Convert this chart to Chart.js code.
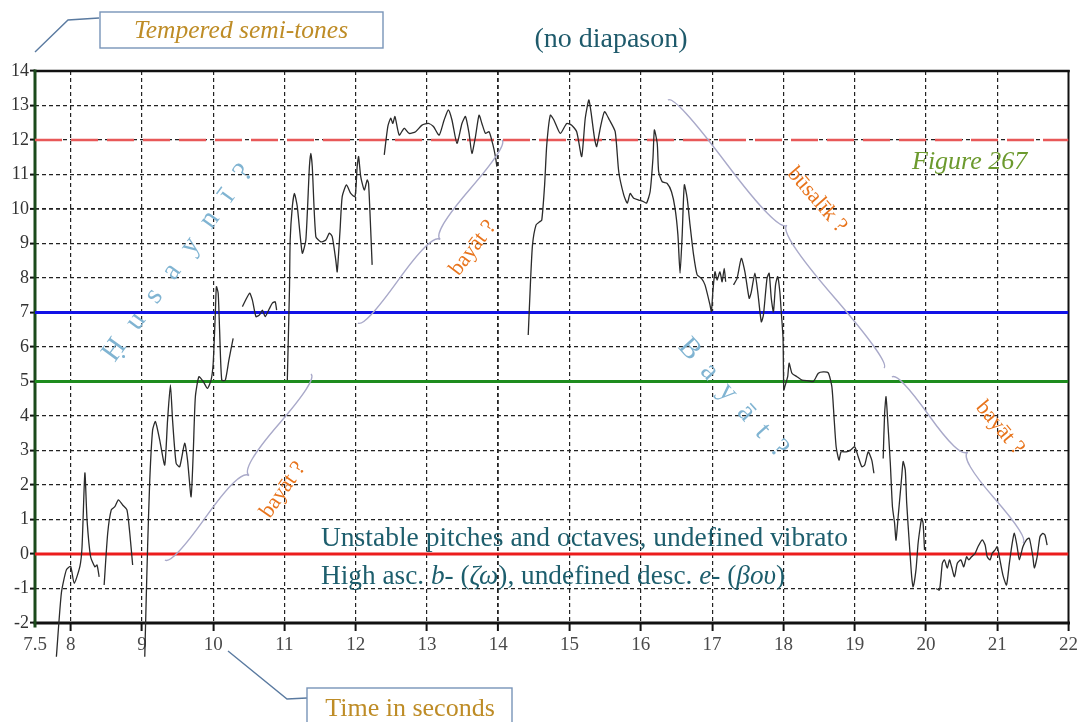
<!DOCTYPE html>
<html lang="en">
<head>
  <meta charset="UTF-8" />
  <title>Pitch curve - Figure 267</title>
  <style>
    html, body { margin: 0; padding: 0; background: #fff; }
    #wrap { width: 1081px; height: 722px; position: relative; }
  </style>
</head>
<body>
  <div id="wrap"><canvas id="pitchChart"></canvas></div>

  <script src="https://cdn.jsdelivr.net/npm/chart.js"></script>
  <script>
    // time in seconds / pitch in tempered semi-tones (null = no pitch detected)
    const t = [
      7.80, 7.87, 7.94, 8.00, 8.05, 8.13, 8.16, 8.20, 8.23, 8.28, 8.34, 8.37, 8.40, 8.43,
      8.47, 8.52, 8.57, 8.62, 8.67, 8.73, 8.79, 8.83, 8.87, 8.95,
      9.04, 9.06, 9.08, 9.11, 9.15, 9.19, 9.25, 9.32, 9.36, 9.40, 9.43, 9.48, 9.53, 9.60, 9.64,
      9.69, 9.72, 9.75, 9.80, 9.86, 9.92, 9.97, 10.00, 10.03, 10.045, 10.07, 10.09, 10.12, 10.17,
      10.22, 10.28, 10.35,
      10.41, 10.51, 10.55, 10.60, 10.65, 10.69, 10.73, 10.79, 10.83, 10.87, 10.89, 10.96,
      11.04, 11.07, 11.08, 11.11, 11.14, 11.18, 11.25, 11.30, 11.35, 11.37, 11.39, 11.44, 11.51,
      11.58, 11.63, 11.67, 11.72, 11.74, 11.78, 11.81, 11.87, 11.93, 11.99, 12.02, 12.04, 12.07,
      12.12, 12.16, 12.18, 12.21, 12.23, 12.30,
      12.40, 12.45, 12.49, 12.52, 12.55, 12.61, 12.68, 12.75, 12.84, 12.93, 13.02, 13.09, 13.17,
      13.24, 13.30, 13.35, 13.42, 13.49, 13.54, 13.59, 13.63, 13.68, 13.73, 13.77, 13.82, 13.87,
      13.92, 13.96, 13.98, 14.20,
      14.42, 14.45, 14.48, 14.53, 14.58, 14.61, 14.65, 14.68, 14.73, 14.78, 14.87, 14.96, 15.03,
      15.10, 15.17, 15.22, 15.27, 15.30, 15.35, 15.38, 15.43, 15.49, 15.56, 15.64, 15.69, 15.76,
      15.81, 15.85, 15.90, 15.97, 16.04, 16.08, 16.13, 16.17, 16.19, 16.23, 16.25, 16.30, 16.37,
      16.43, 16.48, 16.52, 16.55, 16.58, 16.61, 16.65, 16.69, 16.74, 16.79, 16.85, 16.90, 16.97,
      16.99, 17.01, 17.04, 17.07, 17.11, 17.14, 17.17, 17.19, 17.25,
      17.30, 17.35, 17.41, 17.46, 17.52, 17.55, 17.60, 17.64, 17.69, 17.72, 17.77, 17.80, 17.83,
      17.86, 17.89, 17.92, 17.95, 17.97, 17.995, 18.005, 18.02, 18.06, 18.08, 18.12, 18.19, 18.26,
      18.35, 18.42, 18.49, 18.56, 18.63, 18.68, 18.71, 18.74, 18.78, 18.81, 18.88, 18.94, 19.00,
      19.05, 19.10, 19.14, 19.19, 19.24, 19.27, 19.33,
      19.40, 19.42, 19.44, 19.46, 19.50, 19.53, 19.56, 19.58, 19.61, 19.66, 19.68, 19.71, 19.73,
      19.77, 19.80, 19.82, 19.86, 19.89, 19.92, 19.94, 19.96, 19.98, 20.06,
      20.14, 20.19, 20.23, 20.26, 20.30, 20.33, 20.36, 20.40, 20.44, 20.49, 20.53, 20.57, 20.60,
      20.64, 20.69, 20.73, 20.79, 20.83, 20.86, 20.90, 20.93, 20.97, 21.00, 21.03, 21.08, 21.13,
      21.17, 21.21, 21.24, 21.28, 21.31, 21.36, 21.41, 21.45, 21.50, 21.52, 21.56, 21.60, 21.64,
      21.67, 21.70
    ];
    const semitones = [
      -2.98, -1.13, -0.46, -0.36, -0.85, -0.36, 0.21, 2.35, 0.99, -0.08, -0.37, -0.32, -0.66, null,
      -0.90, 0.60, 1.28, 1.37, 1.57, 1.42, 1.28, 0.60, -0.32, null,
      -2.98, -1.33, 0.21, 2.14, 3.59, 3.84, 3.30, 2.58, 3.88, 4.90, 3.88, 2.63, 2.53, 3.21, 2.72,
      1.66, 2.92, 4.56, 5.14, 5.00, 4.80, 5.04, 5.53, 6.97, 7.75, 7.56, 6.49, 5.04, 5.04,
      5.62, 6.25, null,
      7.17, 7.56, 7.36, 6.88, 6.93, 7.07, 6.88, 7.12, 7.27, 7.31, 7.07, null,
      5.04, 7.65, 9.10, 10.07, 10.45, 10.07, 8.72, 9.10, 11.23, 11.61, 11.23, 9.20, 9.05,
      9.10, 9.30, 9.20, 8.52, 8.18, 9.39, 10.36, 10.70, 10.45, 10.36, 11.23, 11.52, 10.94,
      10.55, 10.84, 10.74, 9.39, 8.38, null,
      11.57, 12.39, 12.63, 12.48, 12.68, 12.14, 12.34, 12.19, 12.24, 12.43, 12.48, 12.39, 12.14,
      12.58, 12.87, 12.58, 11.90, 12.48, 12.68, 12.19, 11.61, 12.10, 12.72, 12.48, 12.19, 12.24,
      11.90, 11.52, 11.23, null,
      6.35, 7.80, 8.96, 9.54, 9.63, 9.68, 10.70, 11.86, 12.72, 12.58, 12.19, 12.48, 12.43,
      12.24, 11.52, 12.63, 13.16, 12.82, 12.05, 11.81, 12.34, 12.82, 12.58, 12.24, 11.08, 10.41,
      10.17, 10.45, 10.31, 10.26, 10.21, 10.17, 10.50, 11.47, 12.29, 11.90, 11.08, 10.79, 10.74,
      10.50, 10.02, 9.25, 8.14, 9.25, 10.70, 10.31, 9.54, 8.67, 8.09, 7.99, 7.80, 7.22,
      7.02, 7.60, 8.18, 7.94, 8.18, 7.89, 8.28, 7.89, null,
      7.80, 7.99, 8.57, 8.18, 7.41, 7.60, 8.14, 7.60, 6.73, 6.93, 7.99, 8.14, 7.41,
      7.02, 7.80, 8.04, 7.60, 7.02, 6.25, 4.75, 4.85, 5.14, 5.53, 5.24, 5.14, 5.04,
      5.02, 5.00, 5.24, 5.28, 5.25, 4.85, 3.98, 3.11, 2.72, 2.96, 2.96, 3.01, 3.11,
      2.82, 2.53, 2.58, 2.96, 2.72, 2.34, null,
      2.77, 4.07, 4.56, 3.98, 2.63, 1.37, 0.89, 0.40, 1.08, 2.24, 2.68, 2.43, 1.47,
      0.21, -0.66, -0.95, -0.46, 0.31, 0.79, 1.03, 0.89, 0.12, null,
      -1.00, -1.04, -0.27, -0.17, -0.41, -0.17, -0.37, -0.66, -0.27, -0.17, -0.37, -0.08, -0.17,
      -0.08, 0.02, 0.21, 0.41, 0.26, -0.08, -0.17, 0.02, 0.12, 0.21, -0.08, -0.61, -0.90,
      -0.27, 0.31, 0.60, 0.21, -0.17, 0.21, 0.41, 0.46, -0.08, -0.41, -0.08, 0.50, 0.60,
      0.55, 0.26
    ];

    // reference pitch levels (semi-tones)
    const refLevels = [0, 5, 7, 12];

    const xTicks = [7.5, 8, 9, 10, 11, 12, 13, 14, 15, 16, 17, 18, 19, 20, 21, 22];
    const yTicks = [-2, -1, 0, 1, 2, 3, 4, 5, 6, 7, 8, 9, 10, 11, 12, 13, 14];

    const SERIF = "'Liberation Serif', 'DejaVu Serif', serif";
    const refStyle = {
      0:  { color: '#ec1c1c', width: 3, dash: [] },
      5:  { color: '#1e8c1e', width: 3, dash: [] },
      7:  { color: '#1212e6', width: 3, dash: [] },
      12: { color: '#e85858', width: 2.3, dash: [27, 9] }
    };

    const curve = t.map((x, i) => ({ x: x, y: semitones[i] }));

    const refSets = refLevels.map(level => ({
      data: [{ x: xTicks[0], y: level }, { x: xTicks[xTicks.length - 1], y: level }],
      borderColor: refStyle[level].color,
      borderWidth: refStyle[level].width,
      borderDash: refStyle[level].dash,
      pointRadius: 0,
      tension: 0
    }));

    function brace(ctx, x1, y1, x2, y2, w) {
      const q = 0.6;
      let dx = x1 - x2, dy = y1 - y2;
      const len = Math.hypot(dx, dy);
      dx /= len; dy /= len;
      const qx1 = x1 + q * w * dy, qy1 = y1 - q * w * dx;
      const qx2 = (x1 - .25 * len * dx) + (1 - q) * w * dy, qy2 = (y1 - .25 * len * dy) - (1 - q) * w * dx;
      const tx = (x1 - .5 * len * dx) + w * dy, ty = (y1 - .5 * len * dy) - w * dx;
      const qx3 = x2 + q * w * dy, qy3 = y2 - q * w * dx;
      const qx4 = (x1 - .75 * len * dx) + (1 - q) * w * dy, qy4 = (y1 - .75 * len * dy) - (1 - q) * w * dx;
      ctx.beginPath();
      ctx.moveTo(x1, y1);
      ctx.quadraticCurveTo(qx1, qy1, qx2, qy2);
      ctx.quadraticCurveTo(2 * qx2 - qx1, 2 * qy2 - qy1, tx, ty);
      ctx.moveTo(x2, y2);
      ctx.quadraticCurveTo(qx3, qy3, qx4, qy4);
      ctx.quadraticCurveTo(2 * qx4 - qx3, 2 * qy4 - qy3, tx, ty);
      ctx.stroke();
    }

    // letters spread evenly along a rotated baseline
    function spacedText(ctx, text, cx, cy, angle, length) {
      const chars = Array.from(text);
      const widths = chars.map(c => ctx.measureText(c).width);
      const sum = widths.reduce((a, b) => a + b, 0);
      const gap = (length - sum) / (chars.length - 1);
      ctx.save();
      ctx.translate(cx, cy);
      ctx.rotate(angle * Math.PI / 180);
      let x = -length / 2;
      chars.forEach((c, i) => { ctx.fillText(c, x, 0); x += widths[i] + gap; });
      ctx.restore();
    }

    function rotText(ctx, text, cx, cy, angle) {
      ctx.save();
      ctx.translate(cx, cy);
      ctx.rotate(angle * Math.PI / 180);
      ctx.textAlign = 'center';
      ctx.fillText(text, 0, 0);
      ctx.restore();
    }

    // mixed normal / italic runs on one baseline
    function runs(ctx, parts, x, y, size) {
      parts.forEach(p => {
        ctx.font = (p[1] ? 'italic ' : '') + size + 'px ' + SERIF;
        ctx.fillText(p[0], x, y);
        x += ctx.measureText(p[0]).width;
      });
    }

    const frame = {
      id: 'frame',
      beforeDatasetsDraw(chart) {
        const ctx = chart.ctx, a = chart.chartArea;
        ctx.save();
        ctx.lineCap = 'square';
        ctx.strokeStyle = '#111';
        ctx.lineWidth = 2.5;
        ctx.beginPath(); ctx.moveTo(a.left, a.top); ctx.lineTo(a.right, a.top); ctx.stroke();
        ctx.lineWidth = 2;
        ctx.beginPath(); ctx.moveTo(a.right, a.top); ctx.lineTo(a.right, a.bottom); ctx.stroke();
        ctx.lineWidth = 3;
        ctx.beginPath(); ctx.moveTo(a.left, a.bottom); ctx.lineTo(a.right, a.bottom); ctx.stroke();
        ctx.strokeStyle = '#1b4a1b';
        ctx.beginPath(); ctx.moveTo(a.left, a.top); ctx.lineTo(a.left, a.bottom + 3); ctx.stroke();
        ctx.restore();
      }
    };

    const notes = {
      id: 'notes',
      afterDatasetsDraw(chart) {
        const ctx = chart.ctx;
        ctx.save();

        // title
        ctx.fillStyle = '#1e5a6b';
        ctx.font = '28px ' + SERIF;
        ctx.textAlign = 'center';
        ctx.textBaseline = 'alphabetic';
        ctx.fillText('(no diapason)', 611, 47);

        // axis caption boxes with their leader lines
        ctx.strokeStyle = '#5a7aa0';
        ctx.lineWidth = 1.4;
        ctx.beginPath(); ctx.moveTo(35, 52); ctx.lineTo(68, 20); ctx.lineTo(99, 18); ctx.stroke();
        ctx.beginPath(); ctx.moveTo(228, 651); ctx.lineTo(287, 699); ctx.lineTo(307, 698); ctx.stroke();
        ctx.strokeStyle = '#7894b8';
        ctx.fillStyle = '#fff';
        ctx.fillRect(100, 12, 283, 36); ctx.strokeRect(100, 12, 283, 36);
        ctx.fillRect(307, 688, 205, 40); ctx.strokeRect(307, 688, 205, 40);
        ctx.fillStyle = '#be8c26';
        ctx.font = 'italic 25.5px ' + SERIF;
        ctx.fillText('Tempered semi-tones', 241, 38);
        ctx.font = '26px ' + SERIF;
        ctx.fillText('Time in seconds', 410, 716);

        // figure number
        ctx.fillStyle = '#6c9a2e';
        ctx.font = 'italic 26px ' + SERIF;
        ctx.textAlign = 'left';
        ctx.fillText('Figure 267', 912, 169);

        // comments
        ctx.fillStyle = '#1d5e6d';
        ctx.font = '27.5px ' + SERIF;
        ctx.fillText('Unstable pitches and octaves, undefined vibrato', 321, 546);
        runs(ctx, [['High asc. ', 0], ['b-', 1], [' (', 0], ['ζω', 1], ['), undefined desc. ', 0],
                   ['e-', 1], [' (', 0], ['βου', 1], [')', 0]], 321, 584, 27.3);

        // braces
        ctx.strokeStyle = '#a9a9c9';
        ctx.lineWidth = 1.4;
        brace(ctx, 165, 560, 311, 374, 14);
        brace(ctx, 358, 323, 502, 140, 13);
        brace(ctx, 884, 368, 668, 100, 14);
        brace(ctx, 1023, 543, 892, 377, 13);

        // maqam names
        ctx.textBaseline = 'middle';
        ctx.fillStyle = '#80b4d2';
        ctx.font = '29px ' + SERIF;
        spacedText(ctx, 'Ḥusaynī?', 178, 263, -54, 236);
        spacedText(ctx, 'Bayāt?', 733, 398, 48, 150);

        ctx.fillStyle = '#e8741c';
        ctx.font = '22px ' + SERIF;
        rotText(ctx, 'bayāt ?', 283, 490, -55);
        rotText(ctx, 'bayāt ?', 473, 248, -53);
        rotText(ctx, 'būsalīk ?', 817, 200, 49);
        rotText(ctx, 'bayāt ?', 1000, 428, 50);

        ctx.restore();
      }
    };

    const gridColor = (hide) => (c) => (c.tick && hide.includes(c.tick.value)) ? 'rgba(0,0,0,0)' : '#222';

    new Chart(document.getElementById('pitchChart'), {
      type: 'line',
      data: {
        datasets: [{
          data: curve,
          borderColor: '#2b2b2b',
          borderWidth: 1.3,
          pointRadius: 0,
          tension: 0.2,
          spanGaps: false,
          clip: false
        }].concat(refSets)
      },
      options: {
        responsive: true,
        maintainAspectRatio: false,
        animation: false,
        layout: { padding: { top: 71, right: 11, bottom: 0, left: 0 } },
        plugins: { legend: { display: false }, tooltip: { enabled: false } },
        scales: {
          x: {
            type: 'linear',
            min: 7.5,
            max: 22,
            afterBuildTicks: s => { s.ticks = xTicks.map(v => ({ value: v })); },
            afterFit: s => { s.height = 99; },
            border: { display: false, dash: [4, 3] },
            grid: {
              color: gridColor([7.5, 22]),
              lineWidth: c => (c.tick && c.tick.value === 14) ? 1.8 : 1.2,
              tickColor: c => (c.tick && c.tick.value === 7.5) ? 'rgba(0,0,0,0)' : '#111',
              tickLength: 8,
              tickWidth: 2
            },
            ticks: {
              autoSkip: false,
              maxRotation: 0,
              padding: 3,
              color: '#4a4a4a',
              font: { family: SERIF, size: 19 },
              callback: v => String(v)
            }
          },
          y: {
            min: -2,
            max: 14,
            afterBuildTicks: s => { s.ticks = yTicks.map(v => ({ value: v })); },
            afterFit: s => { s.width = 35; },
            border: { display: false, dash: [4, 3] },
            grid: {
              color: gridColor([-2, 14]),
              lineWidth: c => (c.tick && c.tick.value === 10) ? 1.8 : 1.2,
              tickColor: '#111',
              tickLength: 5,
              tickWidth: 2
            },
            ticks: {
              padding: 1,
              color: '#333',
              font: { family: SERIF, size: 18 },
              callback: v => String(v)
            }
          }
        }
      },
      plugins: [frame, notes]
    });
  </script>
</body>
</html>
